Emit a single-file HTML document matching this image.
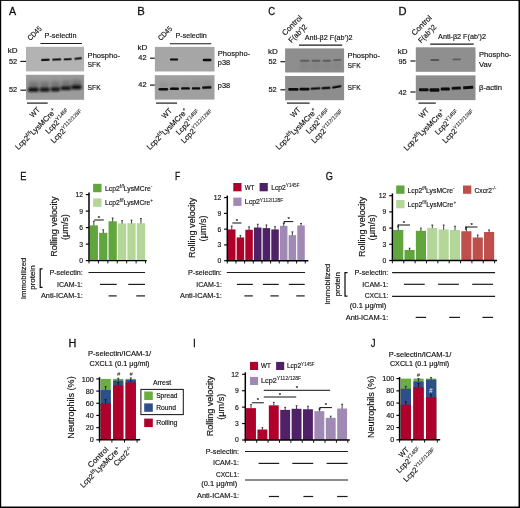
<!DOCTYPE html>
<html><head><meta charset="utf-8"><title>Figure</title>
<style>html,body{margin:0;padding:0;background:#fff;}body{width:520px;height:508px;overflow:hidden;}svg{display:block;font-family:"Liberation Sans", sans-serif;}text{font-family:"Liberation Sans", sans-serif;stroke:#111;stroke-width:0.16px;}</style>
</head><body>
<svg width="520" height="508" viewBox="0 0 520 508">
<defs>
<filter id="b1" x="-20%" y="-100%" width="140%" height="300%"><feGaussianBlur stdDeviation="0.7 0.55"/></filter>
<filter id="b2" x="-20%" y="-100%" width="140%" height="300%"><feGaussianBlur stdDeviation="1.0 0.9"/></filter>
<filter id="b3" x="-30%" y="-60%" width="160%" height="220%"><feGaussianBlur stdDeviation="1.6 2.2"/></filter>
<filter id="bt" x="-5%" y="-5%" width="110%" height="110%"><feGaussianBlur stdDeviation="0.35"/></filter>
<filter id="soft" x="0" y="0" width="100%" height="100%" filterUnits="objectBoundingBox"><feGaussianBlur stdDeviation="0.38"/></filter>
</defs>
<rect x="0" y="0" width="520" height="508" fill="#fff"/>
<g filter="url(#soft)">
<rect x="0.00" y="0.00" width="520.00" height="508.00" fill="#000" />
<rect x="1.20" y="0.90" width="517.30" height="505.60" fill="#fff" />
<text transform="translate(9.00 15.00) scale(0.943 1)" font-size="11.30" text-anchor="start" fill="#111" style="stroke-width:0.28px">A</text>
<text transform="translate(137.20 15.00) scale(1 1)" font-size="11.30" text-anchor="start" fill="#111" style="stroke-width:0.28px">B</text>
<text transform="translate(268.18 15.00) scale(0.837 1)" font-size="11.30" text-anchor="start" fill="#111" style="stroke-width:0.28px">C</text>
<text transform="translate(398.40 15.00) scale(0.986 1)" font-size="11.30" text-anchor="start" fill="#111" style="stroke-width:0.28px">D</text>
<text transform="translate(20.18 180.40) scale(0.817 1)" font-size="11.30" text-anchor="start" fill="#111" style="stroke-width:0.28px">E</text>
<text transform="translate(175.12 180.40) scale(0.75 1)" font-size="11.30" text-anchor="start" fill="#111" style="stroke-width:0.28px">F</text>
<text transform="translate(325.64 180.40) scale(0.812 1)" font-size="11.30" text-anchor="start" fill="#111" style="stroke-width:0.28px">G</text>
<text transform="translate(68.51 347.20) scale(0.964 1)" font-size="11.30" text-anchor="start" fill="#111" style="stroke-width:0.28px">H</text>
<text transform="translate(192.90 347.20) scale(0.9 1)" font-size="11.30" text-anchor="start" fill="#111" style="stroke-width:0.28px">I</text>
<text transform="translate(370.71 347.20) scale(0.85 1)" font-size="11.30" text-anchor="start" fill="#111" style="stroke-width:0.28px">J</text>
<clipPath id="cA1"><rect x="26.00" y="46.80" width="58.10" height="24.60"/></clipPath>
<rect x="26.00" y="46.80" width="58.10" height="24.60" fill="#b3b3b3" />
<g clip-path="url(#cA1)">
<rect x="41.00" y="58.85" width="8.70" height="2.10" rx="1.05" fill="#0a0a0a" opacity="0.95" filter="url(#b1)" transform="rotate(-3 45.35 59.90)"/>
<rect x="52.10" y="58.60" width="9.20" height="2.00" rx="1.00" fill="#0a0a0a" opacity="0.95" filter="url(#b1)" transform="rotate(-3 56.70 59.60)"/>
<rect x="63.60" y="58.35" width="8.20" height="1.90" rx="0.95" fill="#0a0a0a" opacity="0.95" filter="url(#b1)" transform="rotate(-3 67.70 59.30)"/>
<rect x="74.30" y="57.45" width="7.70" height="2.10" rx="1.05" fill="#0a0a0a" opacity="0.95" filter="url(#b1)" transform="rotate(-7 78.15 58.50)"/>
</g>
<clipPath id="cA2"><rect x="26.00" y="74.80" width="58.10" height="25.00"/></clipPath>
<rect x="26.00" y="74.80" width="58.10" height="25.00" fill="#9b9b9b" />
<g clip-path="url(#cA2)">
<rect x="28.50" y="82.00" width="10.00" height="7.00" rx="1.20" fill="#484848" opacity="0.52" filter="url(#b3)" transform="rotate(0 33.50 85.50)"/>
<rect x="40.00" y="82.00" width="9.50" height="7.00" rx="1.20" fill="#484848" opacity="0.52" filter="url(#b3)" transform="rotate(0 44.75 85.50)"/>
<rect x="51.20" y="81.50" width="8.80" height="7.00" rx="1.20" fill="#484848" opacity="0.52" filter="url(#b3)" transform="rotate(0 55.60 85.00)"/>
<rect x="61.50" y="80.80" width="9.50" height="7.00" rx="1.20" fill="#484848" opacity="0.52" filter="url(#b3)" transform="rotate(0 66.25 84.30)"/>
<rect x="72.00" y="79.90" width="9.50" height="7.00" rx="1.20" fill="#484848" opacity="0.56" filter="url(#b3)" transform="rotate(0 76.75 83.40)"/>
<rect x="28.10" y="87.70" width="10.50" height="4.00" rx="1.20" fill="#0a0a0a" opacity="1.00" filter="url(#b2)" transform="rotate(0 33.35 89.70)"/>
<rect x="39.90" y="87.80" width="9.60" height="3.80" rx="1.20" fill="#0a0a0a" opacity="1.00" filter="url(#b2)" transform="rotate(0 44.70 89.70)"/>
<rect x="50.80" y="87.40" width="9.10" height="3.80" rx="1.20" fill="#0a0a0a" opacity="1.00" filter="url(#b2)" transform="rotate(0 55.35 89.30)"/>
<rect x="60.70" y="86.45" width="10.20" height="3.50" rx="1.20" fill="#0a0a0a" opacity="1.00" filter="url(#b2)" transform="rotate(0 65.80 88.20)"/>
<rect x="71.30" y="85.20" width="10.20" height="4.00" rx="1.20" fill="#0a0a0a" opacity="1.00" filter="url(#b2)" transform="rotate(0 76.40 87.20)"/>
</g>
<text transform="translate(30.50 41.00) rotate(-45)" font-size="7.60" text-anchor="start" fill="#111" textLength="16.50" lengthAdjust="spacingAndGlyphs" >CD45</text>
<text transform="translate(44.60 38.40)" font-size="7.60" text-anchor="start" fill="#111" textLength="31.90" lengthAdjust="spacingAndGlyphs" >P-selectin</text>
<line x1="40.40" y1="43.50" x2="81.90" y2="43.50" stroke="#1a1a1a" stroke-width="1.15" stroke-linecap="butt"/>
<text transform="translate(7.80 52.60)" font-size="7.60" text-anchor="start" fill="#111" textLength="9.80" lengthAdjust="spacingAndGlyphs" >kD</text>
<text transform="translate(9.00 63.80)" font-size="7.60" text-anchor="start" fill="#111" textLength="8.20" lengthAdjust="spacingAndGlyphs" >52</text>
<line x1="20.40" y1="61.40" x2="26.00" y2="61.40" stroke="#1a1a1a" stroke-width="1.20" stroke-linecap="butt"/>
<text transform="translate(9.00 92.30)" font-size="7.60" text-anchor="start" fill="#111" textLength="8.20" lengthAdjust="spacingAndGlyphs" >52</text>
<line x1="20.40" y1="90.20" x2="26.00" y2="90.20" stroke="#1a1a1a" stroke-width="1.20" stroke-linecap="butt"/>
<text transform="translate(87.60 57.50)" font-size="7.80" text-anchor="start" fill="#111" textLength="32.40" lengthAdjust="spacingAndGlyphs" >Phospho-</text>
<text transform="translate(87.60 67.20)" font-size="7.80" text-anchor="start" fill="#111" textLength="13.00" lengthAdjust="spacingAndGlyphs" >SFK</text>
<text transform="translate(87.60 89.50)" font-size="7.80" text-anchor="start" fill="#111" textLength="13.00" lengthAdjust="spacingAndGlyphs" >SFK</text>
<line x1="27.00" y1="103.10" x2="47.70" y2="103.10" stroke="#1a1a1a" stroke-width="1.20" stroke-linecap="butt"/>
<text transform="translate(40.50 110.30) rotate(-45)" font-size="7.60" text-anchor="end" fill="#111" textLength="10.80" lengthAdjust="spacingAndGlyphs" >WT</text>
<text transform="translate(56.80 111.80) rotate(-45)" font-size="7.60" text-anchor="end" fill="#111" textLength="54.50" lengthAdjust="spacingAndGlyphs" >Lcp2<tspan dy="-3.04" font-size="5.32" style="stroke-width:0.08px">f/f</tspan><tspan dy="3.04">LysMCre</tspan><tspan dy="-3.04" font-size="5.32" style="stroke-width:0.08px">+</tspan></text>
<text transform="translate(70.30 112.40) rotate(-45)" font-size="7.60" text-anchor="end" fill="#111" textLength="31.00" lengthAdjust="spacingAndGlyphs" >Lcp2<tspan dy="-3.04" font-size="5.32" style="stroke-width:0.08px">Y145F</tspan></text>
<text transform="translate(84.20 113.30) rotate(-45)" font-size="7.60" text-anchor="end" fill="#111" textLength="43.00" lengthAdjust="spacingAndGlyphs" >Lcp2<tspan dy="-3.04" font-size="5.32" style="stroke-width:0.08px">Y112/128F</tspan></text>
<clipPath id="cB1"><rect x="154.90" y="46.90" width="59.60" height="24.60"/></clipPath>
<rect x="154.90" y="46.90" width="59.60" height="24.60" fill="#a6a6a6" />
<g clip-path="url(#cB1)">
<rect x="169.90" y="58.40" width="8.30" height="2.20" rx="1.10" fill="#0a0a0a" opacity="1.00" filter="url(#b1)" transform="rotate(0 174.05 59.50)"/>
<rect x="202.70" y="58.80" width="8.80" height="2.40" rx="1.20" fill="#0a0a0a" opacity="1.00" filter="url(#b1)" transform="rotate(0 207.10 60.00)"/>
</g>
<clipPath id="cB2"><rect x="154.80" y="75.20" width="59.70" height="24.40"/></clipPath>
<rect x="154.80" y="75.20" width="59.70" height="24.40" fill="#a0a0a0" />
<g clip-path="url(#cB2)">
<rect x="159.00" y="82.50" width="9.00" height="6.00" rx="1.20" fill="#666" opacity="0.22" filter="url(#b3)" transform="rotate(0 163.50 85.50)"/>
<rect x="170.30" y="82.00" width="8.50" height="6.00" rx="1.20" fill="#666" opacity="0.22" filter="url(#b3)" transform="rotate(0 174.55 85.00)"/>
<rect x="181.30" y="81.80" width="8.50" height="6.00" rx="1.20" fill="#666" opacity="0.22" filter="url(#b3)" transform="rotate(0 185.55 84.80)"/>
<rect x="192.00" y="81.80" width="8.20" height="6.00" rx="1.20" fill="#666" opacity="0.22" filter="url(#b3)" transform="rotate(0 196.10 84.80)"/>
<rect x="202.30" y="81.00" width="9.00" height="6.00" rx="1.20" fill="#666" opacity="0.25" filter="url(#b3)" transform="rotate(0 206.80 84.00)"/>
<rect x="158.50" y="88.05" width="9.70" height="2.50" rx="1.20" fill="#0a0a0a" opacity="1.00" filter="url(#b1)" transform="rotate(0 163.35 89.30)"/>
<rect x="169.90" y="87.55" width="9.10" height="2.50" rx="1.20" fill="#0a0a0a" opacity="1.00" filter="url(#b1)" transform="rotate(0 174.45 88.80)"/>
<rect x="181.00" y="87.20" width="8.90" height="2.40" rx="1.20" fill="#0a0a0a" opacity="1.00" filter="url(#b1)" transform="rotate(0 185.45 88.40)"/>
<rect x="191.80" y="87.25" width="8.50" height="2.30" rx="1.15" fill="#0a0a0a" opacity="1.00" filter="url(#b1)" transform="rotate(0 196.05 88.40)"/>
<rect x="202.00" y="86.20" width="9.50" height="2.60" rx="1.20" fill="#0a0a0a" opacity="1.00" filter="url(#b1)" transform="rotate(-3 206.75 87.50)"/>
</g>
<text transform="translate(161.00 41.00) rotate(-45)" font-size="7.60" text-anchor="start" fill="#111" textLength="16.50" lengthAdjust="spacingAndGlyphs" >CD45</text>
<text transform="translate(175.50 38.00)" font-size="7.60" text-anchor="start" fill="#111" textLength="31.30" lengthAdjust="spacingAndGlyphs" >P-selectin</text>
<line x1="169.80" y1="43.70" x2="211.30" y2="43.70" stroke="#1a1a1a" stroke-width="1.15" stroke-linecap="butt"/>
<text transform="translate(137.40 50.00)" font-size="7.60" text-anchor="start" fill="#111" textLength="9.80" lengthAdjust="spacingAndGlyphs" >kD</text>
<text transform="translate(138.30 60.30)" font-size="7.60" text-anchor="start" fill="#111" textLength="8.20" lengthAdjust="spacingAndGlyphs" >42</text>
<line x1="150.00" y1="58.20" x2="154.80" y2="58.20" stroke="#1a1a1a" stroke-width="1.20" stroke-linecap="butt"/>
<text transform="translate(138.30 87.20)" font-size="7.60" text-anchor="start" fill="#111" textLength="8.20" lengthAdjust="spacingAndGlyphs" >42</text>
<line x1="150.00" y1="85.10" x2="154.80" y2="85.10" stroke="#1a1a1a" stroke-width="1.20" stroke-linecap="butt"/>
<text transform="translate(217.80 55.90)" font-size="7.80" text-anchor="start" fill="#111" textLength="32.40" lengthAdjust="spacingAndGlyphs" >Phospho-</text>
<text transform="translate(217.80 65.10)" font-size="7.80" text-anchor="start" fill="#111" textLength="12.30" lengthAdjust="spacingAndGlyphs" >p38</text>
<text transform="translate(217.80 87.60)" font-size="7.80" text-anchor="start" fill="#111" textLength="12.30" lengthAdjust="spacingAndGlyphs" >p38</text>
<line x1="156.00" y1="103.10" x2="177.00" y2="103.10" stroke="#1a1a1a" stroke-width="1.20" stroke-linecap="butt"/>
<text transform="translate(172.40 111.30) rotate(-45)" font-size="7.60" text-anchor="end" fill="#111" textLength="10.80" lengthAdjust="spacingAndGlyphs" >WT</text>
<text transform="translate(188.30 111.80) rotate(-45)" font-size="7.60" text-anchor="end" fill="#111" textLength="54.50" lengthAdjust="spacingAndGlyphs" >Lcp2<tspan dy="-3.04" font-size="5.32" style="stroke-width:0.08px">f/f</tspan><tspan dy="3.04">LysMCre</tspan><tspan dy="-3.04" font-size="5.32" style="stroke-width:0.08px">+</tspan></text>
<text transform="translate(200.90 113.40) rotate(-45)" font-size="7.60" text-anchor="end" fill="#111" textLength="31.00" lengthAdjust="spacingAndGlyphs" >Lcp2<tspan dy="-3.04" font-size="5.32" style="stroke-width:0.08px">Y145F</tspan></text>
<text transform="translate(214.40 113.30) rotate(-45)" font-size="7.60" text-anchor="end" fill="#111" textLength="43.00" lengthAdjust="spacingAndGlyphs" >Lcp2<tspan dy="-3.04" font-size="5.32" style="stroke-width:0.08px">Y112/128F</tspan></text>
<clipPath id="cC1"><rect x="285.10" y="48.40" width="59.00" height="24.10"/></clipPath>
<rect x="285.10" y="48.40" width="59.00" height="24.10" fill="#8e8e8e" />
<g clip-path="url(#cC1)">
<rect x="300.00" y="59.85" width="9.50" height="1.90" rx="0.95" fill="#333" opacity="0.50" filter="url(#b1)" transform="rotate(0 304.75 60.80)"/>
<rect x="311.50" y="59.85" width="9.00" height="1.90" rx="0.95" fill="#333" opacity="0.50" filter="url(#b1)" transform="rotate(0 316.00 60.80)"/>
<rect x="322.50" y="59.75" width="8.50" height="1.90" rx="0.95" fill="#333" opacity="0.50" filter="url(#b1)" transform="rotate(0 326.75 60.70)"/>
<rect x="333.00" y="59.15" width="8.50" height="1.90" rx="0.95" fill="#333" opacity="0.50" filter="url(#b1)" transform="rotate(-4 337.25 60.10)"/>
<rect x="300.00" y="62.00" width="9.50" height="8.00" rx="1.20" fill="#666" opacity="0.20" filter="url(#b3)" transform="rotate(0 304.75 66.00)"/>
<rect x="311.50" y="62.00" width="9.00" height="8.00" rx="1.20" fill="#666" opacity="0.20" filter="url(#b3)" transform="rotate(0 316.00 66.00)"/>
<rect x="322.50" y="62.00" width="8.50" height="8.00" rx="1.20" fill="#666" opacity="0.20" filter="url(#b3)" transform="rotate(0 326.75 66.00)"/>
<rect x="333.00" y="62.00" width="8.50" height="8.00" rx="1.20" fill="#666" opacity="0.20" filter="url(#b3)" transform="rotate(0 337.25 66.00)"/>
</g>
<clipPath id="cC2"><rect x="285.10" y="76.00" width="59.00" height="24.20"/></clipPath>
<rect x="285.10" y="76.00" width="59.00" height="24.20" fill="#8d8d8d" />
<g clip-path="url(#cC2)">
<rect x="288.20" y="88.10" width="10.30" height="2.60" rx="1.20" fill="#0a0a0a" opacity="1.00" filter="url(#b1)" transform="rotate(0 293.35 89.40)"/>
<rect x="299.50" y="87.80" width="10.00" height="2.60" rx="1.20" fill="#0a0a0a" opacity="1.00" filter="url(#b1)" transform="rotate(0 304.50 89.10)"/>
<rect x="310.50" y="87.45" width="10.00" height="2.10" rx="1.05" fill="#0a0a0a" opacity="1.00" filter="url(#b1)" transform="rotate(-4 315.50 88.50)"/>
<rect x="321.50" y="86.80" width="9.00" height="2.40" rx="1.20" fill="#0a0a0a" opacity="0.92" filter="url(#b1)" transform="rotate(-3 326.00 88.00)"/>
<rect x="332.00" y="85.70" width="9.50" height="2.20" rx="1.10" fill="#0a0a0a" opacity="1.00" filter="url(#b1)" transform="rotate(-10 336.75 86.80)"/>
</g>
<text transform="translate(285.00 35.90) rotate(-45)" font-size="7.60" text-anchor="start" fill="#111" textLength="25.00" lengthAdjust="spacingAndGlyphs" >Control</text>
<text transform="translate(291.60 43.30) rotate(-45)" font-size="7.60" text-anchor="start" fill="#111" textLength="22.50" lengthAdjust="spacingAndGlyphs" >F(ab’)2</text>
<text transform="translate(304.80 39.90)" font-size="7.60" text-anchor="start" fill="#111" textLength="47.80" lengthAdjust="spacingAndGlyphs" >Anti-β2 F(ab’)2</text>
<line x1="299.00" y1="45.10" x2="342.20" y2="45.10" stroke="#1a1a1a" stroke-width="1.15" stroke-linecap="butt"/>
<text transform="translate(267.90 53.80)" font-size="7.60" text-anchor="start" fill="#111" textLength="9.80" lengthAdjust="spacingAndGlyphs" >kD</text>
<text transform="translate(268.50 63.70)" font-size="7.60" text-anchor="start" fill="#111" textLength="8.20" lengthAdjust="spacingAndGlyphs" >52</text>
<line x1="280.40" y1="61.70" x2="285.10" y2="61.70" stroke="#1a1a1a" stroke-width="1.20" stroke-linecap="butt"/>
<text transform="translate(268.50 91.50)" font-size="7.60" text-anchor="start" fill="#111" textLength="8.20" lengthAdjust="spacingAndGlyphs" >52</text>
<line x1="280.40" y1="89.80" x2="285.10" y2="89.80" stroke="#1a1a1a" stroke-width="1.20" stroke-linecap="butt"/>
<text transform="translate(347.60 57.60)" font-size="7.80" text-anchor="start" fill="#111" textLength="32.40" lengthAdjust="spacingAndGlyphs" >Phospho-</text>
<text transform="translate(347.60 67.50)" font-size="7.80" text-anchor="start" fill="#111" textLength="13.00" lengthAdjust="spacingAndGlyphs" >SFK</text>
<text transform="translate(347.60 90.00)" font-size="7.80" text-anchor="start" fill="#111" textLength="13.00" lengthAdjust="spacingAndGlyphs" >SFK</text>
<line x1="287.00" y1="103.10" x2="309.60" y2="103.10" stroke="#1a1a1a" stroke-width="1.20" stroke-linecap="butt"/>
<text transform="translate(301.10 110.30) rotate(-45)" font-size="7.60" text-anchor="end" fill="#111" textLength="10.80" lengthAdjust="spacingAndGlyphs" >WT</text>
<text transform="translate(317.40 111.80) rotate(-45)" font-size="7.60" text-anchor="end" fill="#111" textLength="54.50" lengthAdjust="spacingAndGlyphs" >Lcp2<tspan dy="-3.04" font-size="5.32" style="stroke-width:0.08px">f/f</tspan><tspan dy="3.04">LysMCre</tspan><tspan dy="-3.04" font-size="5.32" style="stroke-width:0.08px">+</tspan></text>
<text transform="translate(330.90 112.40) rotate(-45)" font-size="7.60" text-anchor="end" fill="#111" textLength="31.00" lengthAdjust="spacingAndGlyphs" >Lcp2<tspan dy="-3.04" font-size="5.32" style="stroke-width:0.08px">Y145F</tspan></text>
<text transform="translate(344.80 113.30) rotate(-45)" font-size="7.60" text-anchor="end" fill="#111" textLength="43.00" lengthAdjust="spacingAndGlyphs" >Lcp2<tspan dy="-3.04" font-size="5.32" style="stroke-width:0.08px">Y112/128F</tspan></text>
<clipPath id="cD1"><rect x="415.80" y="47.30" width="59.70" height="24.50"/></clipPath>
<rect x="415.80" y="47.30" width="59.70" height="24.50" fill="#8f8f8f" />
<g clip-path="url(#cD1)">
<rect x="430.30" y="58.90" width="9.10" height="2.20" rx="1.10" fill="#222" opacity="0.52" filter="url(#b1)" transform="rotate(0 434.85 60.00)"/>
<rect x="452.50" y="58.45" width="8.50" height="1.90" rx="0.95" fill="#222" opacity="0.45" filter="url(#b1)" transform="rotate(0 456.75 59.40)"/>
</g>
<clipPath id="cD2"><rect x="415.80" y="75.40" width="59.70" height="24.70"/></clipPath>
<rect x="415.80" y="75.40" width="59.70" height="24.70" fill="#8d8d8d" />
<g clip-path="url(#cD2)">
<rect x="418.90" y="88.30" width="9.70" height="3.00" rx="1.20" fill="#0a0a0a" opacity="1.00" filter="url(#b1)" transform="rotate(0 423.75 89.80)"/>
<rect x="429.60" y="88.30" width="9.80" height="3.40" rx="1.20" fill="#0a0a0a" opacity="1.00" filter="url(#b1)" transform="rotate(0 434.50 90.00)"/>
<rect x="440.70" y="87.50" width="9.20" height="3.00" rx="1.20" fill="#0a0a0a" opacity="1.00" filter="url(#b1)" transform="rotate(0 445.30 89.00)"/>
<rect x="451.60" y="86.80" width="9.40" height="2.80" rx="1.20" fill="#0a0a0a" opacity="1.00" filter="url(#b1)" transform="rotate(-3 456.30 88.20)"/>
<rect x="463.00" y="86.00" width="10.40" height="3.00" rx="1.20" fill="#0a0a0a" opacity="1.00" filter="url(#b1)" transform="rotate(-4 468.20 87.50)"/>
</g>
<text transform="translate(414.60 35.90) rotate(-45)" font-size="7.60" text-anchor="start" fill="#111" textLength="25.00" lengthAdjust="spacingAndGlyphs" >Control</text>
<text transform="translate(421.20 43.40) rotate(-45)" font-size="7.60" text-anchor="start" fill="#111" textLength="22.00" lengthAdjust="spacingAndGlyphs" >F(ab’)2</text>
<text transform="translate(438.10 39.00)" font-size="7.60" text-anchor="start" fill="#111" textLength="47.90" lengthAdjust="spacingAndGlyphs" >Anti-β2 F(ab’)2</text>
<line x1="430.20" y1="44.10" x2="473.70" y2="44.10" stroke="#1a1a1a" stroke-width="1.15" stroke-linecap="butt"/>
<text transform="translate(397.70 53.70)" font-size="7.60" text-anchor="start" fill="#111" textLength="9.80" lengthAdjust="spacingAndGlyphs" >kD</text>
<text transform="translate(398.50 63.80)" font-size="7.60" text-anchor="start" fill="#111" textLength="8.20" lengthAdjust="spacingAndGlyphs" >95</text>
<line x1="410.40" y1="61.00" x2="415.50" y2="61.00" stroke="#1a1a1a" stroke-width="1.20" stroke-linecap="butt"/>
<text transform="translate(398.50 94.50)" font-size="7.60" text-anchor="start" fill="#111" textLength="8.20" lengthAdjust="spacingAndGlyphs" >42</text>
<line x1="410.40" y1="92.00" x2="415.50" y2="92.00" stroke="#1a1a1a" stroke-width="1.20" stroke-linecap="butt"/>
<text transform="translate(479.00 57.30)" font-size="7.80" text-anchor="start" fill="#111" textLength="32.40" lengthAdjust="spacingAndGlyphs" >Phospho-</text>
<text transform="translate(479.00 67.00)" font-size="7.80" text-anchor="start" fill="#111" textLength="12.60" lengthAdjust="spacingAndGlyphs" >Vav</text>
<text transform="translate(479.00 89.50)" font-size="7.80" text-anchor="start" fill="#111" textLength="23.00" lengthAdjust="spacingAndGlyphs" >β-actin</text>
<line x1="418.50" y1="103.10" x2="435.80" y2="103.10" stroke="#1a1a1a" stroke-width="1.20" stroke-linecap="butt"/>
<text transform="translate(429.60 111.00) rotate(-45)" font-size="7.60" text-anchor="end" fill="#111" textLength="10.80" lengthAdjust="spacingAndGlyphs" >WT</text>
<text transform="translate(445.20 112.80) rotate(-45)" font-size="7.60" text-anchor="end" fill="#111" textLength="54.50" lengthAdjust="spacingAndGlyphs" >Lcp2<tspan dy="-3.04" font-size="5.32" style="stroke-width:0.08px">f/f</tspan><tspan dy="3.04">LysMCre</tspan><tspan dy="-3.04" font-size="5.32" style="stroke-width:0.08px">+</tspan></text>
<text transform="translate(459.90 113.40) rotate(-45)" font-size="7.60" text-anchor="end" fill="#111" textLength="31.00" lengthAdjust="spacingAndGlyphs" >Lcp2<tspan dy="-3.04" font-size="5.32" style="stroke-width:0.08px">Y145F</tspan></text>
<text transform="translate(475.80 113.30) rotate(-45)" font-size="7.60" text-anchor="end" fill="#111" textLength="43.00" lengthAdjust="spacingAndGlyphs" >Lcp2<tspan dy="-3.04" font-size="5.32" style="stroke-width:0.08px">Y112/128F</tspan></text>
<rect x="89.70" y="225.40" width="8.25" height="35.20" fill="#60a63c" />
<line x1="93.83" y1="225.60" x2="93.83" y2="221.28" stroke="#111" stroke-width="0.80" stroke-linecap="butt"/>
<line x1="92.92" y1="221.28" x2="94.73" y2="221.28" stroke="#111" stroke-width="0.80" stroke-linecap="butt"/>
<rect x="99.12" y="232.83" width="8.25" height="27.78" fill="#60a63c" />
<line x1="103.25" y1="233.03" x2="103.25" y2="229.80" stroke="#111" stroke-width="0.80" stroke-linecap="butt"/>
<line x1="102.34" y1="229.80" x2="104.15" y2="229.80" stroke="#111" stroke-width="0.80" stroke-linecap="butt"/>
<rect x="108.54" y="221.28" width="8.25" height="39.33" fill="#60a63c" />
<line x1="112.67" y1="221.47" x2="112.67" y2="217.97" stroke="#111" stroke-width="0.80" stroke-linecap="butt"/>
<line x1="111.77" y1="217.97" x2="113.57" y2="217.97" stroke="#111" stroke-width="0.80" stroke-linecap="butt"/>
<rect x="117.96" y="223.47" width="8.25" height="37.13" fill="#b5d699" />
<line x1="122.09" y1="223.67" x2="122.09" y2="220.72" stroke="#111" stroke-width="0.80" stroke-linecap="butt"/>
<line x1="121.19" y1="220.72" x2="122.99" y2="220.72" stroke="#111" stroke-width="0.80" stroke-linecap="butt"/>
<rect x="127.38" y="223.20" width="8.25" height="37.40" fill="#b5d699" />
<line x1="131.50" y1="223.40" x2="131.50" y2="220.18" stroke="#111" stroke-width="0.80" stroke-linecap="butt"/>
<line x1="130.60" y1="220.18" x2="132.41" y2="220.18" stroke="#111" stroke-width="0.80" stroke-linecap="butt"/>
<rect x="136.80" y="223.20" width="8.25" height="37.40" fill="#b5d699" />
<line x1="140.93" y1="223.40" x2="140.93" y2="218.53" stroke="#111" stroke-width="0.80" stroke-linecap="butt"/>
<line x1="140.03" y1="218.53" x2="141.83" y2="218.53" stroke="#111" stroke-width="0.80" stroke-linecap="butt"/>
<line x1="89.00" y1="192.60" x2="89.00" y2="261.30" stroke="#000" stroke-width="1.50" stroke-linecap="butt"/>
<line x1="88.30" y1="260.60" x2="146.80" y2="260.60" stroke="#000" stroke-width="1.40" stroke-linecap="butt"/>
<line x1="85.80" y1="260.60" x2="89.00" y2="260.60" stroke="#000" stroke-width="1.15" stroke-linecap="butt"/>
<text transform="translate(83.00 263.00) scale(0.92 1)" font-size="7.40" text-anchor="end" fill="#111" >0</text>
<line x1="85.80" y1="244.10" x2="89.00" y2="244.10" stroke="#000" stroke-width="1.15" stroke-linecap="butt"/>
<text transform="translate(83.00 246.50) scale(0.92 1)" font-size="7.40" text-anchor="end" fill="#111" >3</text>
<line x1="85.80" y1="227.60" x2="89.00" y2="227.60" stroke="#000" stroke-width="1.15" stroke-linecap="butt"/>
<text transform="translate(83.00 230.00) scale(0.92 1)" font-size="7.40" text-anchor="end" fill="#111" >6</text>
<line x1="85.80" y1="211.10" x2="89.00" y2="211.10" stroke="#000" stroke-width="1.15" stroke-linecap="butt"/>
<text transform="translate(83.00 213.50) scale(0.92 1)" font-size="7.40" text-anchor="end" fill="#111" >9</text>
<line x1="85.80" y1="194.60" x2="89.00" y2="194.60" stroke="#000" stroke-width="1.15" stroke-linecap="butt"/>
<text transform="translate(83.00 197.00) scale(0.92 1)" font-size="7.40" text-anchor="end" fill="#111" >12</text>
<line x1="89.00" y1="260.60" x2="89.00" y2="263.40" stroke="#111" stroke-width="1.00" stroke-linecap="butt"/>
<line x1="98.42" y1="260.60" x2="98.42" y2="263.40" stroke="#111" stroke-width="1.00" stroke-linecap="butt"/>
<line x1="107.84" y1="260.60" x2="107.84" y2="263.40" stroke="#111" stroke-width="1.00" stroke-linecap="butt"/>
<line x1="117.26" y1="260.60" x2="117.26" y2="263.40" stroke="#111" stroke-width="1.00" stroke-linecap="butt"/>
<line x1="126.68" y1="260.60" x2="126.68" y2="263.40" stroke="#111" stroke-width="1.00" stroke-linecap="butt"/>
<line x1="136.10" y1="260.60" x2="136.10" y2="263.40" stroke="#111" stroke-width="1.00" stroke-linecap="butt"/>
<line x1="145.52" y1="260.60" x2="145.52" y2="263.40" stroke="#111" stroke-width="1.00" stroke-linecap="butt"/>
<text transform="translate(56.80 226.60) rotate(-90)" font-size="9.00" text-anchor="middle" fill="#111" textLength="60.30" lengthAdjust="spacingAndGlyphs" >Rolling velocity</text>
<text transform="translate(68.30 227.10) rotate(-90)" font-size="9.00" text-anchor="middle" fill="#111" textLength="26.00" lengthAdjust="spacingAndGlyphs" >(μm/s)</text>
<line x1="94.20" y1="220.00" x2="103.80" y2="220.00" stroke="#111" stroke-width="1.00" stroke-linecap="butt"/>
<text transform="translate(99.00 219.60)" font-size="6.00" text-anchor="middle" fill="#111" >*</text>
<rect x="93.10" y="183.80" width="8.40" height="8.40" fill="#60a63c" />
<rect x="93.10" y="198.40" width="8.40" height="8.40" fill="#b5d699" />
<text transform="translate(105.10 190.80)" font-size="7.20" text-anchor="start" fill="#111" textLength="47.20" lengthAdjust="spacingAndGlyphs" >Lcp2<tspan dy="-2.88" font-size="5.04" style="stroke-width:0.08px">f/f</tspan><tspan dy="2.88">LysMCre</tspan><tspan dy="-2.88" font-size="5.04" style="stroke-width:0.08px">-</tspan></text>
<text transform="translate(105.10 205.20)" font-size="7.20" text-anchor="start" fill="#111" textLength="48.00" lengthAdjust="spacingAndGlyphs" >Lcp2<tspan dy="-2.88" font-size="5.04" style="stroke-width:0.08px">f/f</tspan><tspan dy="2.88">LysMCre</tspan><tspan dy="-2.88" font-size="5.04" style="stroke-width:0.08px">+</tspan></text>
<text transform="translate(82.80 274.60)" font-size="7.60" text-anchor="end" fill="#111" textLength="33.40" lengthAdjust="spacingAndGlyphs" >P-selectin:</text>
<text transform="translate(82.80 286.60)" font-size="7.60" text-anchor="end" fill="#111" textLength="25.70" lengthAdjust="spacingAndGlyphs" >ICAM-1:</text>
<text transform="translate(82.80 298.10)" font-size="7.60" text-anchor="end" fill="#111" textLength="41.80" lengthAdjust="spacingAndGlyphs" >Anti-ICAM-1:</text>
<line x1="88.50" y1="272.50" x2="145.00" y2="272.50" stroke="#1a1a1a" stroke-width="1.20" stroke-linecap="butt"/>
<line x1="100.00" y1="284.40" x2="116.70" y2="284.40" stroke="#1a1a1a" stroke-width="1.20" stroke-linecap="butt"/>
<line x1="128.30" y1="284.40" x2="145.00" y2="284.40" stroke="#1a1a1a" stroke-width="1.20" stroke-linecap="butt"/>
<line x1="108.60" y1="295.90" x2="116.70" y2="295.90" stroke="#1a1a1a" stroke-width="1.20" stroke-linecap="butt"/>
<line x1="136.30" y1="295.90" x2="145.00" y2="295.90" stroke="#1a1a1a" stroke-width="1.20" stroke-linecap="butt"/>
<path d="M42.6 268.8 H40.2 V287.4 H42.6" fill="none" stroke="#111" stroke-width="1.25"/>
<text transform="translate(25.60 278.40) rotate(-90)" font-size="7.60" text-anchor="middle" fill="#111" textLength="41.50" lengthAdjust="spacingAndGlyphs" >Immobilized</text>
<text transform="translate(35.20 277.60) rotate(-90)" font-size="7.60" text-anchor="middle" fill="#111" textLength="24.30" lengthAdjust="spacingAndGlyphs" >protein</text>
<rect x="228.00" y="229.41" width="7.50" height="31.29" fill="#ae002b" />
<line x1="231.75" y1="229.61" x2="231.75" y2="226.00" stroke="#111" stroke-width="0.80" stroke-linecap="butt"/>
<line x1="230.85" y1="226.00" x2="232.65" y2="226.00" stroke="#111" stroke-width="0.80" stroke-linecap="butt"/>
<rect x="236.66" y="237.41" width="7.50" height="23.29" fill="#ae002b" />
<line x1="240.41" y1="237.61" x2="240.41" y2="235.57" stroke="#111" stroke-width="0.80" stroke-linecap="butt"/>
<line x1="239.51" y1="235.57" x2="241.31" y2="235.57" stroke="#111" stroke-width="0.80" stroke-linecap="butt"/>
<rect x="245.32" y="229.78" width="7.50" height="30.92" fill="#ae002b" />
<line x1="249.07" y1="229.98" x2="249.07" y2="226.89" stroke="#111" stroke-width="0.80" stroke-linecap="butt"/>
<line x1="248.17" y1="226.89" x2="249.97" y2="226.89" stroke="#111" stroke-width="0.80" stroke-linecap="butt"/>
<rect x="253.98" y="227.52" width="7.50" height="33.18" fill="#4f2267" />
<line x1="257.73" y1="227.72" x2="257.73" y2="224.26" stroke="#111" stroke-width="0.80" stroke-linecap="butt"/>
<line x1="256.83" y1="224.26" x2="258.63" y2="224.26" stroke="#111" stroke-width="0.80" stroke-linecap="butt"/>
<rect x="262.64" y="228.10" width="7.50" height="32.60" fill="#4f2267" />
<line x1="266.39" y1="228.30" x2="266.39" y2="224.94" stroke="#111" stroke-width="0.80" stroke-linecap="butt"/>
<line x1="265.49" y1="224.94" x2="267.29" y2="224.94" stroke="#111" stroke-width="0.80" stroke-linecap="butt"/>
<rect x="271.30" y="229.41" width="7.50" height="31.29" fill="#4f2267" />
<line x1="275.05" y1="229.61" x2="275.05" y2="226.68" stroke="#111" stroke-width="0.80" stroke-linecap="butt"/>
<line x1="274.15" y1="226.68" x2="275.95" y2="226.68" stroke="#111" stroke-width="0.80" stroke-linecap="butt"/>
<rect x="279.96" y="225.89" width="7.50" height="34.81" fill="#a08ab4" />
<line x1="283.71" y1="226.09" x2="283.71" y2="223.16" stroke="#111" stroke-width="0.80" stroke-linecap="butt"/>
<line x1="282.81" y1="223.16" x2="284.61" y2="223.16" stroke="#111" stroke-width="0.80" stroke-linecap="butt"/>
<rect x="288.62" y="235.14" width="7.50" height="25.56" fill="#a08ab4" />
<line x1="292.37" y1="235.34" x2="292.37" y2="231.88" stroke="#111" stroke-width="0.80" stroke-linecap="butt"/>
<line x1="291.47" y1="231.88" x2="293.27" y2="231.88" stroke="#111" stroke-width="0.80" stroke-linecap="butt"/>
<rect x="297.28" y="225.47" width="7.50" height="35.23" fill="#a08ab4" />
<line x1="301.03" y1="225.67" x2="301.03" y2="223.47" stroke="#111" stroke-width="0.80" stroke-linecap="butt"/>
<line x1="300.13" y1="223.47" x2="301.93" y2="223.47" stroke="#111" stroke-width="0.80" stroke-linecap="butt"/>
<line x1="227.30" y1="195.60" x2="227.30" y2="261.40" stroke="#000" stroke-width="1.50" stroke-linecap="butt"/>
<line x1="226.60" y1="260.70" x2="308.40" y2="260.70" stroke="#000" stroke-width="1.40" stroke-linecap="butt"/>
<line x1="224.10" y1="260.70" x2="227.30" y2="260.70" stroke="#000" stroke-width="1.15" stroke-linecap="butt"/>
<text transform="translate(221.40 263.10) scale(0.92 1)" font-size="7.40" text-anchor="end" fill="#111" >0</text>
<line x1="224.10" y1="244.92" x2="227.30" y2="244.92" stroke="#000" stroke-width="1.15" stroke-linecap="butt"/>
<text transform="translate(221.40 247.32) scale(0.92 1)" font-size="7.40" text-anchor="end" fill="#111" >3</text>
<line x1="224.10" y1="229.15" x2="227.30" y2="229.15" stroke="#000" stroke-width="1.15" stroke-linecap="butt"/>
<text transform="translate(221.40 231.55) scale(0.92 1)" font-size="7.40" text-anchor="end" fill="#111" >6</text>
<line x1="224.10" y1="213.38" x2="227.30" y2="213.38" stroke="#000" stroke-width="1.15" stroke-linecap="butt"/>
<text transform="translate(221.40 215.78) scale(0.92 1)" font-size="7.40" text-anchor="end" fill="#111" >9</text>
<line x1="224.10" y1="197.60" x2="227.30" y2="197.60" stroke="#000" stroke-width="1.15" stroke-linecap="butt"/>
<text transform="translate(221.40 200.00) scale(0.92 1)" font-size="7.40" text-anchor="end" fill="#111" >12</text>
<line x1="227.30" y1="260.70" x2="227.30" y2="263.50" stroke="#111" stroke-width="1.00" stroke-linecap="butt"/>
<line x1="235.96" y1="260.70" x2="235.96" y2="263.50" stroke="#111" stroke-width="1.00" stroke-linecap="butt"/>
<line x1="244.62" y1="260.70" x2="244.62" y2="263.50" stroke="#111" stroke-width="1.00" stroke-linecap="butt"/>
<line x1="253.28" y1="260.70" x2="253.28" y2="263.50" stroke="#111" stroke-width="1.00" stroke-linecap="butt"/>
<line x1="261.94" y1="260.70" x2="261.94" y2="263.50" stroke="#111" stroke-width="1.00" stroke-linecap="butt"/>
<line x1="270.60" y1="260.70" x2="270.60" y2="263.50" stroke="#111" stroke-width="1.00" stroke-linecap="butt"/>
<line x1="279.26" y1="260.70" x2="279.26" y2="263.50" stroke="#111" stroke-width="1.00" stroke-linecap="butt"/>
<line x1="287.92" y1="260.70" x2="287.92" y2="263.50" stroke="#111" stroke-width="1.00" stroke-linecap="butt"/>
<line x1="296.58" y1="260.70" x2="296.58" y2="263.50" stroke="#111" stroke-width="1.00" stroke-linecap="butt"/>
<line x1="305.24" y1="260.70" x2="305.24" y2="263.50" stroke="#111" stroke-width="1.00" stroke-linecap="butt"/>
<text transform="translate(194.80 227.90) rotate(-90)" font-size="9.00" text-anchor="middle" fill="#111" textLength="60.30" lengthAdjust="spacingAndGlyphs" >Rolling velocity</text>
<text transform="translate(206.30 228.40) rotate(-90)" font-size="9.00" text-anchor="middle" fill="#111" textLength="26.00" lengthAdjust="spacingAndGlyphs" >(μm/s)</text>
<line x1="232.30" y1="223.00" x2="241.50" y2="223.00" stroke="#111" stroke-width="1.00" stroke-linecap="butt"/>
<text transform="translate(236.90 222.60)" font-size="6.00" text-anchor="middle" fill="#111" >*</text>
<line x1="284.20" y1="221.60" x2="293.30" y2="221.60" stroke="#111" stroke-width="1.00" stroke-linecap="butt"/>
<line x1="284.20" y1="221.10" x2="284.20" y2="223.60" stroke="#111" stroke-width="1.00" stroke-linecap="butt"/>
<text transform="translate(288.75 221.20)" font-size="6.00" text-anchor="middle" fill="#111" >*</text>
<rect x="233.30" y="183.00" width="8.20" height="8.30" fill="#ae002b" />
<rect x="259.60" y="183.00" width="8.20" height="8.30" fill="#4f2267" />
<rect x="233.30" y="197.60" width="8.20" height="8.30" fill="#a08ab4" />
<text transform="translate(244.80 190.00)" font-size="7.20" text-anchor="start" fill="#111" textLength="9.60" lengthAdjust="spacingAndGlyphs" >WT</text>
<text transform="translate(271.20 190.00)" font-size="7.20" text-anchor="start" fill="#111" textLength="28.40" lengthAdjust="spacingAndGlyphs" >Lcp2<tspan dy="-2.88" font-size="5.04" style="stroke-width:0.08px">Y145F</tspan></text>
<text transform="translate(244.80 204.40)" font-size="7.20" text-anchor="start" fill="#111" textLength="38.50" lengthAdjust="spacingAndGlyphs" >Lcp2<tspan dy="-2.88" font-size="5.04" style="stroke-width:0.08px">Y112/128F</tspan></text>
<text transform="translate(221.90 274.60)" font-size="7.60" text-anchor="end" fill="#111" textLength="34.00" lengthAdjust="spacingAndGlyphs" >P-selectin:</text>
<text transform="translate(221.90 286.60)" font-size="7.60" text-anchor="end" fill="#111" textLength="25.70" lengthAdjust="spacingAndGlyphs" >ICAM-1:</text>
<text transform="translate(221.90 298.10)" font-size="7.60" text-anchor="end" fill="#111" textLength="41.80" lengthAdjust="spacingAndGlyphs" >Anti-ICAM-1:</text>
<line x1="226.80" y1="272.50" x2="305.00" y2="272.50" stroke="#1a1a1a" stroke-width="1.20" stroke-linecap="butt"/>
<line x1="236.90" y1="284.40" x2="252.80" y2="284.40" stroke="#1a1a1a" stroke-width="1.20" stroke-linecap="butt"/>
<line x1="262.90" y1="284.40" x2="278.70" y2="284.40" stroke="#1a1a1a" stroke-width="1.20" stroke-linecap="butt"/>
<line x1="288.80" y1="284.40" x2="304.70" y2="284.40" stroke="#1a1a1a" stroke-width="1.20" stroke-linecap="butt"/>
<line x1="244.40" y1="295.90" x2="252.80" y2="295.90" stroke="#1a1a1a" stroke-width="1.20" stroke-linecap="butt"/>
<line x1="270.40" y1="295.90" x2="278.70" y2="295.90" stroke="#1a1a1a" stroke-width="1.20" stroke-linecap="butt"/>
<line x1="296.30" y1="295.90" x2="304.70" y2="295.90" stroke="#1a1a1a" stroke-width="1.20" stroke-linecap="butt"/>
<rect x="393.15" y="229.99" width="10.15" height="30.51" fill="#60a63c" />
<line x1="398.22" y1="230.19" x2="398.22" y2="226.21" stroke="#111" stroke-width="0.80" stroke-linecap="butt"/>
<line x1="397.32" y1="226.21" x2="399.12" y2="226.21" stroke="#111" stroke-width="0.80" stroke-linecap="butt"/>
<rect x="404.51" y="249.97" width="10.15" height="10.53" fill="#60a63c" />
<line x1="409.58" y1="250.17" x2="409.58" y2="248.24" stroke="#111" stroke-width="0.80" stroke-linecap="butt"/>
<line x1="408.69" y1="248.24" x2="410.48" y2="248.24" stroke="#111" stroke-width="0.80" stroke-linecap="butt"/>
<rect x="415.87" y="230.80" width="10.15" height="29.70" fill="#60a63c" />
<line x1="420.94" y1="231.00" x2="420.94" y2="228.10" stroke="#111" stroke-width="0.80" stroke-linecap="butt"/>
<line x1="420.05" y1="228.10" x2="421.84" y2="228.10" stroke="#111" stroke-width="0.80" stroke-linecap="butt"/>
<rect x="427.23" y="227.99" width="10.15" height="32.51" fill="#b5d699" />
<line x1="432.30" y1="228.19" x2="432.30" y2="225.02" stroke="#111" stroke-width="0.80" stroke-linecap="butt"/>
<line x1="431.40" y1="225.02" x2="433.20" y2="225.02" stroke="#111" stroke-width="0.80" stroke-linecap="butt"/>
<rect x="438.59" y="229.45" width="10.15" height="31.05" fill="#b5d699" />
<line x1="443.66" y1="229.65" x2="443.66" y2="225.02" stroke="#111" stroke-width="0.80" stroke-linecap="butt"/>
<line x1="442.76" y1="225.02" x2="444.56" y2="225.02" stroke="#111" stroke-width="0.80" stroke-linecap="butt"/>
<rect x="449.95" y="229.99" width="10.15" height="30.51" fill="#b5d699" />
<line x1="455.02" y1="230.19" x2="455.02" y2="226.21" stroke="#111" stroke-width="0.80" stroke-linecap="butt"/>
<line x1="454.12" y1="226.21" x2="455.92" y2="226.21" stroke="#111" stroke-width="0.80" stroke-linecap="butt"/>
<rect x="461.31" y="231.23" width="10.15" height="29.27" fill="#bf4f4b" />
<line x1="466.38" y1="231.43" x2="466.38" y2="227.45" stroke="#111" stroke-width="0.80" stroke-linecap="butt"/>
<line x1="465.48" y1="227.45" x2="467.28" y2="227.45" stroke="#111" stroke-width="0.80" stroke-linecap="butt"/>
<rect x="472.67" y="237.50" width="10.15" height="23.00" fill="#bf4f4b" />
<line x1="477.74" y1="237.70" x2="477.74" y2="235.01" stroke="#111" stroke-width="0.80" stroke-linecap="butt"/>
<line x1="476.84" y1="235.01" x2="478.64" y2="235.01" stroke="#111" stroke-width="0.80" stroke-linecap="butt"/>
<rect x="484.03" y="231.99" width="10.15" height="28.51" fill="#bf4f4b" />
<line x1="489.10" y1="232.19" x2="489.10" y2="229.94" stroke="#111" stroke-width="0.80" stroke-linecap="butt"/>
<line x1="488.20" y1="229.94" x2="490.00" y2="229.94" stroke="#111" stroke-width="0.80" stroke-linecap="butt"/>
<line x1="392.40" y1="193.40" x2="392.40" y2="261.20" stroke="#000" stroke-width="1.50" stroke-linecap="butt"/>
<line x1="391.70" y1="260.50" x2="497.00" y2="260.50" stroke="#000" stroke-width="1.40" stroke-linecap="butt"/>
<line x1="389.20" y1="260.50" x2="392.40" y2="260.50" stroke="#000" stroke-width="1.15" stroke-linecap="butt"/>
<text transform="translate(386.40 262.90) scale(0.92 1)" font-size="7.40" text-anchor="end" fill="#111" >0</text>
<line x1="389.20" y1="244.30" x2="392.40" y2="244.30" stroke="#000" stroke-width="1.15" stroke-linecap="butt"/>
<text transform="translate(386.40 246.70) scale(0.92 1)" font-size="7.40" text-anchor="end" fill="#111" >3</text>
<line x1="389.20" y1="228.10" x2="392.40" y2="228.10" stroke="#000" stroke-width="1.15" stroke-linecap="butt"/>
<text transform="translate(386.40 230.50) scale(0.92 1)" font-size="7.40" text-anchor="end" fill="#111" >6</text>
<line x1="389.20" y1="211.90" x2="392.40" y2="211.90" stroke="#000" stroke-width="1.15" stroke-linecap="butt"/>
<text transform="translate(386.40 214.30) scale(0.92 1)" font-size="7.40" text-anchor="end" fill="#111" >9</text>
<line x1="389.20" y1="195.70" x2="392.40" y2="195.70" stroke="#000" stroke-width="1.15" stroke-linecap="butt"/>
<text transform="translate(386.40 198.10) scale(0.92 1)" font-size="7.40" text-anchor="end" fill="#111" >12</text>
<line x1="392.40" y1="260.50" x2="392.40" y2="263.30" stroke="#111" stroke-width="1.00" stroke-linecap="butt"/>
<line x1="403.76" y1="260.50" x2="403.76" y2="263.30" stroke="#111" stroke-width="1.00" stroke-linecap="butt"/>
<line x1="415.12" y1="260.50" x2="415.12" y2="263.30" stroke="#111" stroke-width="1.00" stroke-linecap="butt"/>
<line x1="426.48" y1="260.50" x2="426.48" y2="263.30" stroke="#111" stroke-width="1.00" stroke-linecap="butt"/>
<line x1="437.84" y1="260.50" x2="437.84" y2="263.30" stroke="#111" stroke-width="1.00" stroke-linecap="butt"/>
<line x1="449.20" y1="260.50" x2="449.20" y2="263.30" stroke="#111" stroke-width="1.00" stroke-linecap="butt"/>
<line x1="460.56" y1="260.50" x2="460.56" y2="263.30" stroke="#111" stroke-width="1.00" stroke-linecap="butt"/>
<line x1="471.92" y1="260.50" x2="471.92" y2="263.30" stroke="#111" stroke-width="1.00" stroke-linecap="butt"/>
<line x1="483.28" y1="260.50" x2="483.28" y2="263.30" stroke="#111" stroke-width="1.00" stroke-linecap="butt"/>
<line x1="494.64" y1="260.50" x2="494.64" y2="263.30" stroke="#111" stroke-width="1.00" stroke-linecap="butt"/>
<text transform="translate(364.50 226.90) rotate(-90)" font-size="9.00" text-anchor="middle" fill="#111" textLength="60.30" lengthAdjust="spacingAndGlyphs" >Rolling velocity</text>
<text transform="translate(375.40 227.40) rotate(-90)" font-size="9.00" text-anchor="middle" fill="#111" textLength="26.00" lengthAdjust="spacingAndGlyphs" >(μm/s)</text>
<line x1="398.00" y1="225.00" x2="410.00" y2="225.00" stroke="#111" stroke-width="1.00" stroke-linecap="butt"/>
<line x1="398.00" y1="224.50" x2="398.00" y2="227.50" stroke="#111" stroke-width="1.00" stroke-linecap="butt"/>
<text transform="translate(404.00 224.60)" font-size="6.00" text-anchor="middle" fill="#111" >*</text>
<line x1="465.80" y1="227.00" x2="477.50" y2="227.00" stroke="#111" stroke-width="1.00" stroke-linecap="butt"/>
<line x1="465.80" y1="226.50" x2="465.80" y2="230.00" stroke="#111" stroke-width="1.00" stroke-linecap="butt"/>
<text transform="translate(471.65 226.60)" font-size="6.00" text-anchor="middle" fill="#111" >*</text>
<rect x="396.20" y="185.50" width="8.30" height="8.30" fill="#60a63c" />
<rect x="463.00" y="185.50" width="8.30" height="8.30" fill="#bf4f4b" />
<rect x="396.20" y="200.00" width="8.30" height="8.30" fill="#b5d699" />
<text transform="translate(407.50 192.50)" font-size="7.20" text-anchor="start" fill="#111" textLength="47.00" lengthAdjust="spacingAndGlyphs" >Lcp2<tspan dy="-2.88" font-size="5.04" style="stroke-width:0.08px">f/f</tspan><tspan dy="2.88">LysMCre</tspan><tspan dy="-2.88" font-size="5.04" style="stroke-width:0.08px">-</tspan></text>
<text transform="translate(474.50 192.50)" font-size="7.20" text-anchor="start" fill="#111" textLength="21.80" lengthAdjust="spacingAndGlyphs" >Cxcr2<tspan dy="-2.88" font-size="5.04" style="stroke-width:0.08px">-/-</tspan></text>
<text transform="translate(407.50 207.00)" font-size="7.20" text-anchor="start" fill="#111" textLength="48.70" lengthAdjust="spacingAndGlyphs" >Lcp2<tspan dy="-2.88" font-size="5.04" style="stroke-width:0.08px">f/f</tspan><tspan dy="2.88">LysMCre</tspan><tspan dy="-2.88" font-size="5.04" style="stroke-width:0.08px">+</tspan></text>
<text transform="translate(388.30 275.00)" font-size="7.60" text-anchor="end" fill="#111" textLength="33.80" lengthAdjust="spacingAndGlyphs" >P-selectin:</text>
<text transform="translate(388.30 286.50)" font-size="7.60" text-anchor="end" fill="#111" textLength="26.00" lengthAdjust="spacingAndGlyphs" >ICAM-1:</text>
<text transform="translate(388.30 298.00)" font-size="7.60" text-anchor="end" fill="#111" textLength="23.60" lengthAdjust="spacingAndGlyphs" >CXCL1:</text>
<text transform="translate(386.30 307.70)" font-size="7.60" text-anchor="end" fill="#111" textLength="36.50" lengthAdjust="spacingAndGlyphs" >(0.1 μg/ml)</text>
<text transform="translate(388.30 319.60)" font-size="7.60" text-anchor="end" fill="#111" textLength="42.60" lengthAdjust="spacingAndGlyphs" >Anti-ICAM-1:</text>
<line x1="392.10" y1="272.60" x2="495.10" y2="272.60" stroke="#1a1a1a" stroke-width="1.20" stroke-linecap="butt"/>
<line x1="403.90" y1="284.30" x2="424.70" y2="284.30" stroke="#1a1a1a" stroke-width="1.20" stroke-linecap="butt"/>
<line x1="438.10" y1="284.30" x2="458.90" y2="284.30" stroke="#1a1a1a" stroke-width="1.20" stroke-linecap="butt"/>
<line x1="472.20" y1="284.30" x2="493.00" y2="284.30" stroke="#1a1a1a" stroke-width="1.20" stroke-linecap="butt"/>
<line x1="392.10" y1="296.40" x2="495.10" y2="296.40" stroke="#1a1a1a" stroke-width="1.20" stroke-linecap="butt"/>
<line x1="415.70" y1="317.40" x2="426.10" y2="317.40" stroke="#1a1a1a" stroke-width="1.20" stroke-linecap="butt"/>
<line x1="449.20" y1="317.40" x2="460.00" y2="317.40" stroke="#1a1a1a" stroke-width="1.20" stroke-linecap="butt"/>
<line x1="482.40" y1="317.40" x2="493.00" y2="317.40" stroke="#1a1a1a" stroke-width="1.20" stroke-linecap="butt"/>
<path d="M347.5 272.7 H345.0 V296.2 H347.5" fill="none" stroke="#111" stroke-width="1.25"/>
<text transform="translate(329.80 284.30) rotate(-90)" font-size="7.60" text-anchor="middle" fill="#111" textLength="41.00" lengthAdjust="spacingAndGlyphs" >Immobilized</text>
<text transform="translate(339.70 284.10) rotate(-90)" font-size="7.60" text-anchor="middle" fill="#111" textLength="24.20" lengthAdjust="spacingAndGlyphs" >protein</text>
<rect x="246.05" y="408.14" width="9.90" height="31.86" fill="#ae002b" />
<line x1="251.00" y1="408.34" x2="251.00" y2="404.58" stroke="#111" stroke-width="0.80" stroke-linecap="butt"/>
<line x1="250.10" y1="404.58" x2="251.90" y2="404.58" stroke="#111" stroke-width="0.80" stroke-linecap="butt"/>
<rect x="257.44" y="429.49" width="9.90" height="10.51" fill="#ae002b" />
<line x1="262.39" y1="429.69" x2="262.39" y2="427.68" stroke="#111" stroke-width="0.80" stroke-linecap="butt"/>
<line x1="261.49" y1="427.68" x2="263.29" y2="427.68" stroke="#111" stroke-width="0.80" stroke-linecap="butt"/>
<rect x="268.83" y="405.34" width="9.90" height="34.66" fill="#ae002b" />
<line x1="273.78" y1="405.54" x2="273.78" y2="402.33" stroke="#111" stroke-width="0.80" stroke-linecap="butt"/>
<line x1="272.88" y1="402.33" x2="274.68" y2="402.33" stroke="#111" stroke-width="0.80" stroke-linecap="butt"/>
<rect x="280.22" y="409.89" width="9.90" height="30.11" fill="#4f2267" />
<line x1="285.17" y1="410.09" x2="285.17" y2="407.37" stroke="#111" stroke-width="0.80" stroke-linecap="butt"/>
<line x1="284.27" y1="407.37" x2="286.07" y2="407.37" stroke="#111" stroke-width="0.80" stroke-linecap="butt"/>
<rect x="291.61" y="408.79" width="9.90" height="31.21" fill="#4f2267" />
<line x1="296.56" y1="408.99" x2="296.56" y2="405.78" stroke="#111" stroke-width="0.80" stroke-linecap="butt"/>
<line x1="295.66" y1="405.78" x2="297.46" y2="405.78" stroke="#111" stroke-width="0.80" stroke-linecap="butt"/>
<rect x="303.00" y="409.23" width="9.90" height="30.77" fill="#4f2267" />
<line x1="307.95" y1="409.43" x2="307.95" y2="406.22" stroke="#111" stroke-width="0.80" stroke-linecap="butt"/>
<line x1="307.05" y1="406.22" x2="308.85" y2="406.22" stroke="#111" stroke-width="0.80" stroke-linecap="butt"/>
<rect x="314.39" y="411.15" width="9.90" height="28.85" fill="#a08ab4" />
<line x1="319.34" y1="411.35" x2="319.34" y2="408.85" stroke="#111" stroke-width="0.80" stroke-linecap="butt"/>
<line x1="318.44" y1="408.85" x2="320.24" y2="408.85" stroke="#111" stroke-width="0.80" stroke-linecap="butt"/>
<rect x="325.78" y="417.83" width="9.90" height="22.17" fill="#a08ab4" />
<line x1="330.73" y1="418.03" x2="330.73" y2="416.18" stroke="#111" stroke-width="0.80" stroke-linecap="butt"/>
<line x1="329.83" y1="416.18" x2="331.63" y2="416.18" stroke="#111" stroke-width="0.80" stroke-linecap="butt"/>
<rect x="337.17" y="408.52" width="9.90" height="31.48" fill="#a08ab4" />
<line x1="342.12" y1="408.72" x2="342.12" y2="404.25" stroke="#111" stroke-width="0.80" stroke-linecap="butt"/>
<line x1="341.22" y1="404.25" x2="343.02" y2="404.25" stroke="#111" stroke-width="0.80" stroke-linecap="butt"/>
<line x1="245.30" y1="372.30" x2="245.30" y2="440.70" stroke="#000" stroke-width="1.50" stroke-linecap="butt"/>
<line x1="244.60" y1="440.00" x2="349.80" y2="440.00" stroke="#000" stroke-width="1.40" stroke-linecap="butt"/>
<line x1="242.10" y1="440.00" x2="245.30" y2="440.00" stroke="#000" stroke-width="1.15" stroke-linecap="butt"/>
<text transform="translate(238.80 442.40) scale(0.92 1)" font-size="7.40" text-anchor="end" fill="#111" >0</text>
<line x1="242.10" y1="423.57" x2="245.30" y2="423.57" stroke="#000" stroke-width="1.15" stroke-linecap="butt"/>
<text transform="translate(238.80 425.97) scale(0.92 1)" font-size="7.40" text-anchor="end" fill="#111" >3</text>
<line x1="242.10" y1="407.15" x2="245.30" y2="407.15" stroke="#000" stroke-width="1.15" stroke-linecap="butt"/>
<text transform="translate(238.80 409.55) scale(0.92 1)" font-size="7.40" text-anchor="end" fill="#111" >6</text>
<line x1="242.10" y1="390.73" x2="245.30" y2="390.73" stroke="#000" stroke-width="1.15" stroke-linecap="butt"/>
<text transform="translate(238.80 393.12) scale(0.92 1)" font-size="7.40" text-anchor="end" fill="#111" >9</text>
<line x1="242.10" y1="374.30" x2="245.30" y2="374.30" stroke="#000" stroke-width="1.15" stroke-linecap="butt"/>
<text transform="translate(238.80 376.70) scale(0.92 1)" font-size="7.40" text-anchor="end" fill="#111" >12</text>
<line x1="245.30" y1="440.00" x2="245.30" y2="442.80" stroke="#111" stroke-width="1.00" stroke-linecap="butt"/>
<line x1="256.69" y1="440.00" x2="256.69" y2="442.80" stroke="#111" stroke-width="1.00" stroke-linecap="butt"/>
<line x1="268.08" y1="440.00" x2="268.08" y2="442.80" stroke="#111" stroke-width="1.00" stroke-linecap="butt"/>
<line x1="279.47" y1="440.00" x2="279.47" y2="442.80" stroke="#111" stroke-width="1.00" stroke-linecap="butt"/>
<line x1="290.86" y1="440.00" x2="290.86" y2="442.80" stroke="#111" stroke-width="1.00" stroke-linecap="butt"/>
<line x1="302.25" y1="440.00" x2="302.25" y2="442.80" stroke="#111" stroke-width="1.00" stroke-linecap="butt"/>
<line x1="313.64" y1="440.00" x2="313.64" y2="442.80" stroke="#111" stroke-width="1.00" stroke-linecap="butt"/>
<line x1="325.03" y1="440.00" x2="325.03" y2="442.80" stroke="#111" stroke-width="1.00" stroke-linecap="butt"/>
<line x1="336.42" y1="440.00" x2="336.42" y2="442.80" stroke="#111" stroke-width="1.00" stroke-linecap="butt"/>
<line x1="347.81" y1="440.00" x2="347.81" y2="442.80" stroke="#111" stroke-width="1.00" stroke-linecap="butt"/>
<text transform="translate(213.20 406.20) rotate(-90)" font-size="9.00" text-anchor="middle" fill="#111" textLength="60.30" lengthAdjust="spacingAndGlyphs" >Rolling velocity</text>
<text transform="translate(224.00 406.70) rotate(-90)" font-size="9.00" text-anchor="middle" fill="#111" textLength="26.00" lengthAdjust="spacingAndGlyphs" >(μm/s)</text>
<line x1="251.80" y1="402.80" x2="263.80" y2="402.80" stroke="#111" stroke-width="1.00" stroke-linecap="butt"/>
<text transform="translate(257.80 402.40)" font-size="6.00" text-anchor="middle" fill="#111" >*</text>
<line x1="263.80" y1="397.00" x2="296.20" y2="397.00" stroke="#111" stroke-width="1.00" stroke-linecap="butt"/>
<text transform="translate(280.00 396.60)" font-size="6.00" text-anchor="middle" fill="#111" >*</text>
<line x1="263.80" y1="390.30" x2="330.10" y2="390.30" stroke="#111" stroke-width="1.00" stroke-linecap="butt"/>
<text transform="translate(296.95 389.90)" font-size="6.00" text-anchor="middle" fill="#111" >*</text>
<line x1="319.90" y1="407.60" x2="331.90" y2="407.60" stroke="#111" stroke-width="1.00" stroke-linecap="butt"/>
<line x1="319.90" y1="407.10" x2="319.90" y2="410.00" stroke="#111" stroke-width="1.00" stroke-linecap="butt"/>
<text transform="translate(325.90 407.20)" font-size="6.00" text-anchor="middle" fill="#111" >*</text>
<rect x="250.00" y="361.90" width="8.10" height="8.10" fill="#ae002b" />
<rect x="276.10" y="361.90" width="8.10" height="8.10" fill="#4f2267" />
<rect x="250.00" y="376.90" width="8.10" height="8.10" fill="#a08ab4" />
<text transform="translate(261.10 368.40)" font-size="7.20" text-anchor="start" fill="#111" textLength="9.70" lengthAdjust="spacingAndGlyphs" >WT</text>
<text transform="translate(286.90 368.40)" font-size="7.20" text-anchor="start" fill="#111" textLength="27.70" lengthAdjust="spacingAndGlyphs" >Lcp2<tspan dy="-2.88" font-size="5.04" style="stroke-width:0.08px">Y145F</tspan></text>
<text transform="translate(261.10 383.20)" font-size="7.20" text-anchor="start" fill="#111" textLength="40.10" lengthAdjust="spacingAndGlyphs" >Lcp2<tspan dy="-2.88" font-size="5.04" style="stroke-width:0.08px">Y112/128F</tspan></text>
<text transform="translate(239.00 453.80)" font-size="7.60" text-anchor="end" fill="#111" textLength="33.30" lengthAdjust="spacingAndGlyphs" >P-selectin:</text>
<text transform="translate(239.00 465.30)" font-size="7.60" text-anchor="end" fill="#111" textLength="26.00" lengthAdjust="spacingAndGlyphs" >ICAM-1:</text>
<text transform="translate(239.00 476.90)" font-size="7.60" text-anchor="end" fill="#111" textLength="23.00" lengthAdjust="spacingAndGlyphs" >CXCL1:</text>
<text transform="translate(237.20 486.40)" font-size="7.60" text-anchor="end" fill="#111" textLength="36.00" lengthAdjust="spacingAndGlyphs" >(0.1 μg/ml)</text>
<text transform="translate(239.00 498.20)" font-size="7.60" text-anchor="end" fill="#111" textLength="41.90" lengthAdjust="spacingAndGlyphs" >Anti-ICAM-1:</text>
<line x1="245.00" y1="451.50" x2="347.90" y2="451.50" stroke="#1a1a1a" stroke-width="1.20" stroke-linecap="butt"/>
<line x1="258.60" y1="463.40" x2="279.20" y2="463.40" stroke="#1a1a1a" stroke-width="1.20" stroke-linecap="butt"/>
<line x1="292.30" y1="463.40" x2="313.20" y2="463.40" stroke="#1a1a1a" stroke-width="1.20" stroke-linecap="butt"/>
<line x1="326.60" y1="463.40" x2="347.60" y2="463.40" stroke="#1a1a1a" stroke-width="1.20" stroke-linecap="butt"/>
<line x1="245.00" y1="480.00" x2="347.90" y2="480.00" stroke="#1a1a1a" stroke-width="1.20" stroke-linecap="butt"/>
<line x1="268.90" y1="496.50" x2="279.00" y2="496.50" stroke="#1a1a1a" stroke-width="1.20" stroke-linecap="butt"/>
<line x1="303.40" y1="496.50" x2="313.20" y2="496.50" stroke="#1a1a1a" stroke-width="1.20" stroke-linecap="butt"/>
<line x1="337.10" y1="496.50" x2="347.60" y2="496.50" stroke="#1a1a1a" stroke-width="1.20" stroke-linecap="butt"/>
<rect x="100.60" y="378.90" width="10.20" height="60.90" fill="#6aae40" />
<rect x="100.60" y="390.00" width="10.20" height="49.80" fill="#2d508b" />
<rect x="100.60" y="403.20" width="10.20" height="36.60" fill="#ae002b" />
<rect x="113.10" y="378.90" width="10.20" height="60.90" fill="#6aae40" />
<rect x="113.10" y="380.60" width="10.20" height="59.20" fill="#2d508b" />
<rect x="113.10" y="385.40" width="10.20" height="54.40" fill="#ae002b" />
<rect x="125.60" y="378.90" width="10.30" height="60.90" fill="#6aae40" />
<rect x="125.60" y="379.90" width="10.30" height="59.90" fill="#2d508b" />
<rect x="125.60" y="382.40" width="10.30" height="57.40" fill="#ae002b" />
<line x1="105.60" y1="386.60" x2="105.60" y2="390.00" stroke="#111" stroke-width="0.80" stroke-linecap="butt"/>
<line x1="104.60" y1="386.60" x2="106.60" y2="386.60" stroke="#111" stroke-width="0.80" stroke-linecap="butt"/>
<line x1="105.60" y1="399.60" x2="105.60" y2="403.20" stroke="#111" stroke-width="0.80" stroke-linecap="butt"/>
<line x1="104.60" y1="399.60" x2="106.60" y2="399.60" stroke="#111" stroke-width="0.80" stroke-linecap="butt"/>
<line x1="118.30" y1="378.20" x2="118.30" y2="380.60" stroke="#111" stroke-width="0.80" stroke-linecap="butt"/>
<line x1="117.30" y1="378.20" x2="119.30" y2="378.20" stroke="#111" stroke-width="0.80" stroke-linecap="butt"/>
<line x1="118.30" y1="382.40" x2="118.30" y2="385.40" stroke="#111" stroke-width="0.80" stroke-linecap="butt"/>
<line x1="117.30" y1="382.40" x2="119.30" y2="382.40" stroke="#111" stroke-width="0.80" stroke-linecap="butt"/>
<line x1="130.80" y1="377.90" x2="130.80" y2="382.40" stroke="#111" stroke-width="0.80" stroke-linecap="butt"/>
<line x1="129.80" y1="377.90" x2="131.80" y2="377.90" stroke="#111" stroke-width="0.80" stroke-linecap="butt"/>
<line x1="99.50" y1="377.20" x2="99.50" y2="440.50" stroke="#000" stroke-width="1.50" stroke-linecap="butt"/>
<line x1="98.80" y1="439.80" x2="140.20" y2="439.80" stroke="#000" stroke-width="1.40" stroke-linecap="butt"/>
<line x1="96.30" y1="439.80" x2="99.50" y2="439.80" stroke="#000" stroke-width="1.15" stroke-linecap="butt"/>
<text transform="translate(93.80 442.40) scale(0.93 1)" font-size="7.80" text-anchor="end" fill="#111" >0</text>
<line x1="96.30" y1="427.62" x2="99.50" y2="427.62" stroke="#000" stroke-width="1.15" stroke-linecap="butt"/>
<text transform="translate(93.80 430.22) scale(0.93 1)" font-size="7.80" text-anchor="end" fill="#111" >20</text>
<line x1="96.30" y1="415.44" x2="99.50" y2="415.44" stroke="#000" stroke-width="1.15" stroke-linecap="butt"/>
<text transform="translate(93.80 418.04) scale(0.93 1)" font-size="7.80" text-anchor="end" fill="#111" >40</text>
<line x1="96.30" y1="403.26" x2="99.50" y2="403.26" stroke="#000" stroke-width="1.15" stroke-linecap="butt"/>
<text transform="translate(93.80 405.86) scale(0.93 1)" font-size="7.80" text-anchor="end" fill="#111" >60</text>
<line x1="96.30" y1="391.08" x2="99.50" y2="391.08" stroke="#000" stroke-width="1.15" stroke-linecap="butt"/>
<text transform="translate(93.80 393.68) scale(0.93 1)" font-size="7.80" text-anchor="end" fill="#111" >80</text>
<line x1="96.30" y1="378.90" x2="99.50" y2="378.90" stroke="#000" stroke-width="1.15" stroke-linecap="butt"/>
<text transform="translate(93.80 381.50) scale(0.93 1)" font-size="7.80" text-anchor="end" fill="#111" >100</text>
<line x1="99.60" y1="439.80" x2="99.60" y2="442.60" stroke="#111" stroke-width="1.00" stroke-linecap="butt"/>
<line x1="111.90" y1="439.80" x2="111.90" y2="442.60" stroke="#111" stroke-width="1.00" stroke-linecap="butt"/>
<line x1="124.50" y1="439.80" x2="124.50" y2="442.60" stroke="#111" stroke-width="1.00" stroke-linecap="butt"/>
<line x1="137.10" y1="439.80" x2="137.10" y2="442.60" stroke="#111" stroke-width="1.00" stroke-linecap="butt"/>
<text transform="translate(74.10 407.50) rotate(-90)" font-size="9.00" text-anchor="middle" fill="#111" textLength="62.30" lengthAdjust="spacingAndGlyphs" >Neutrophils (%)</text>
<text transform="translate(119.60 355.50)" font-size="7.30" text-anchor="middle" fill="#111" textLength="63.20" lengthAdjust="spacingAndGlyphs" >P-selectin/ICAM-1/</text>
<text transform="translate(119.50 365.60)" font-size="7.30" text-anchor="middle" fill="#111" textLength="60.00" lengthAdjust="spacingAndGlyphs" >CXCL1 (0.1 μg/ml)</text>
<text transform="translate(118.50 376.30)" font-size="5.80" text-anchor="middle" fill="#111" style="stroke:none" font-style="italic">#</text>
<text transform="translate(131.00 376.30)" font-size="5.80" text-anchor="middle" fill="#111" style="stroke:none" font-style="italic">#</text>
<text transform="translate(153.00 384.80)" font-size="7.30" text-anchor="start" fill="#111" textLength="18.20" lengthAdjust="spacingAndGlyphs" >Arrest</text>
<rect x="140.90" y="389.40" width="42.40" height="25.20" fill="#fff" stroke="#1c1c1c" stroke-width="1.05" />
<rect x="144.20" y="391.50" width="8.60" height="8.50" fill="#6aae40" />
<rect x="144.20" y="403.40" width="8.60" height="8.40" fill="#2d508b" />
<rect x="144.20" y="418.60" width="8.60" height="8.50" fill="#ae002b" />
<text transform="translate(156.20 398.00)" font-size="7.30" text-anchor="start" fill="#111" textLength="21.30" lengthAdjust="spacingAndGlyphs" >Spread</text>
<text transform="translate(156.20 409.70)" font-size="7.30" text-anchor="start" fill="#111" textLength="19.80" lengthAdjust="spacingAndGlyphs" >Round</text>
<text transform="translate(156.20 424.70)" font-size="7.30" text-anchor="start" fill="#111" textLength="21.20" lengthAdjust="spacingAndGlyphs" >Rolling</text>
<text transform="translate(108.90 450.00) rotate(-45)" font-size="7.60" text-anchor="end" fill="#111" textLength="25.50" lengthAdjust="spacingAndGlyphs" >Control</text>
<text transform="translate(121.00 450.40) rotate(-45)" font-size="7.60" text-anchor="end" fill="#111" textLength="53.50" lengthAdjust="spacingAndGlyphs" >Lcp2<tspan dy="-3.04" font-size="5.32" style="stroke-width:0.08px">f/f</tspan><tspan dy="3.04">LysMCre</tspan><tspan dy="-3.04" font-size="5.32" style="stroke-width:0.08px">+</tspan></text>
<text transform="translate(132.90 450.30) rotate(-45)" font-size="7.60" text-anchor="end" fill="#111" textLength="23.00" lengthAdjust="spacingAndGlyphs" >Cxcr2<tspan dy="-3.04" font-size="5.32" style="stroke-width:0.08px">-/-</tspan></text>
<rect x="400.70" y="378.60" width="10.30" height="61.20" fill="#6aae40" />
<rect x="400.70" y="388.70" width="10.30" height="51.10" fill="#2d508b" />
<rect x="400.70" y="404.70" width="10.30" height="35.10" fill="#ae002b" />
<rect x="413.40" y="378.60" width="10.20" height="61.20" fill="#6aae40" />
<rect x="413.40" y="381.50" width="10.20" height="58.30" fill="#2d508b" />
<rect x="413.40" y="387.40" width="10.20" height="52.40" fill="#ae002b" />
<rect x="426.00" y="378.60" width="10.30" height="61.20" fill="#6aae40" />
<rect x="426.00" y="379.70" width="10.30" height="60.10" fill="#2d508b" />
<rect x="426.00" y="397.30" width="10.30" height="42.50" fill="#ae002b" />
<line x1="405.80" y1="386.40" x2="405.80" y2="388.70" stroke="#111" stroke-width="0.80" stroke-linecap="butt"/>
<line x1="404.80" y1="386.40" x2="406.80" y2="386.40" stroke="#111" stroke-width="0.80" stroke-linecap="butt"/>
<line x1="405.80" y1="401.60" x2="405.80" y2="404.70" stroke="#111" stroke-width="0.80" stroke-linecap="butt"/>
<line x1="404.80" y1="401.60" x2="406.80" y2="401.60" stroke="#111" stroke-width="0.80" stroke-linecap="butt"/>
<line x1="418.50" y1="378.60" x2="418.50" y2="381.50" stroke="#111" stroke-width="0.80" stroke-linecap="butt"/>
<line x1="417.50" y1="378.60" x2="419.50" y2="378.60" stroke="#111" stroke-width="0.80" stroke-linecap="butt"/>
<line x1="418.50" y1="383.50" x2="418.50" y2="387.40" stroke="#111" stroke-width="0.80" stroke-linecap="butt"/>
<line x1="417.50" y1="383.50" x2="419.50" y2="383.50" stroke="#111" stroke-width="0.80" stroke-linecap="butt"/>
<line x1="431.10" y1="377.60" x2="431.10" y2="379.70" stroke="#111" stroke-width="0.80" stroke-linecap="butt"/>
<line x1="430.10" y1="377.60" x2="432.10" y2="377.60" stroke="#111" stroke-width="0.80" stroke-linecap="butt"/>
<line x1="431.10" y1="394.50" x2="431.10" y2="397.30" stroke="#111" stroke-width="0.80" stroke-linecap="butt"/>
<line x1="430.10" y1="394.50" x2="432.10" y2="394.50" stroke="#111" stroke-width="0.80" stroke-linecap="butt"/>
<line x1="399.60" y1="377.00" x2="399.60" y2="440.50" stroke="#000" stroke-width="1.50" stroke-linecap="butt"/>
<line x1="398.90" y1="439.80" x2="440.20" y2="439.80" stroke="#000" stroke-width="1.40" stroke-linecap="butt"/>
<line x1="396.40" y1="439.80" x2="399.60" y2="439.80" stroke="#000" stroke-width="1.15" stroke-linecap="butt"/>
<text transform="translate(394.40 442.40) scale(0.93 1)" font-size="7.80" text-anchor="end" fill="#111" >0</text>
<line x1="396.40" y1="427.56" x2="399.60" y2="427.56" stroke="#000" stroke-width="1.15" stroke-linecap="butt"/>
<text transform="translate(394.40 430.16) scale(0.93 1)" font-size="7.80" text-anchor="end" fill="#111" >20</text>
<line x1="396.40" y1="415.32" x2="399.60" y2="415.32" stroke="#000" stroke-width="1.15" stroke-linecap="butt"/>
<text transform="translate(394.40 417.92) scale(0.93 1)" font-size="7.80" text-anchor="end" fill="#111" >40</text>
<line x1="396.40" y1="403.08" x2="399.60" y2="403.08" stroke="#000" stroke-width="1.15" stroke-linecap="butt"/>
<text transform="translate(394.40 405.68) scale(0.93 1)" font-size="7.80" text-anchor="end" fill="#111" >60</text>
<line x1="396.40" y1="390.84" x2="399.60" y2="390.84" stroke="#000" stroke-width="1.15" stroke-linecap="butt"/>
<text transform="translate(394.40 393.44) scale(0.93 1)" font-size="7.80" text-anchor="end" fill="#111" >80</text>
<line x1="396.40" y1="378.60" x2="399.60" y2="378.60" stroke="#000" stroke-width="1.15" stroke-linecap="butt"/>
<text transform="translate(394.40 381.20) scale(0.93 1)" font-size="7.80" text-anchor="end" fill="#111" >100</text>
<line x1="399.60" y1="439.80" x2="399.60" y2="442.60" stroke="#111" stroke-width="1.00" stroke-linecap="butt"/>
<line x1="411.90" y1="439.80" x2="411.90" y2="442.60" stroke="#111" stroke-width="1.00" stroke-linecap="butt"/>
<line x1="424.60" y1="439.80" x2="424.60" y2="442.60" stroke="#111" stroke-width="1.00" stroke-linecap="butt"/>
<line x1="437.30" y1="439.80" x2="437.30" y2="442.60" stroke="#111" stroke-width="1.00" stroke-linecap="butt"/>
<text transform="translate(374.10 406.80) rotate(-90)" font-size="9.00" text-anchor="middle" fill="#111" textLength="62.30" lengthAdjust="spacingAndGlyphs" >Neutrophils (%)</text>
<text transform="translate(420.00 356.50)" font-size="7.30" text-anchor="middle" fill="#111" textLength="62.50" lengthAdjust="spacingAndGlyphs" >P-selectin/ICAM-1/</text>
<text transform="translate(419.60 366.40)" font-size="7.30" text-anchor="middle" fill="#111" textLength="59.30" lengthAdjust="spacingAndGlyphs" >CXCL1 (0.1 μg/ml)</text>
<text transform="translate(418.30 377.30)" font-size="5.80" text-anchor="middle" fill="#111" style="stroke:none" font-style="italic">#</text>
<text transform="translate(430.70 393.20)" font-size="6.40" text-anchor="middle" fill="#e6ecf5" style="stroke:none" font-style="italic">#</text>
<text transform="translate(409.50 450.30) rotate(-45)" font-size="7.60" text-anchor="end" fill="#111" textLength="10.80" lengthAdjust="spacingAndGlyphs" >WT</text>
<text transform="translate(422.00 450.80) rotate(-45)" font-size="7.60" text-anchor="end" fill="#111" textLength="32.00" lengthAdjust="spacingAndGlyphs" >Lcp2<tspan dy="-3.04" font-size="5.32" style="stroke-width:0.08px">Y145F</tspan></text>
<text transform="translate(437.10 451.80) rotate(-45)" font-size="7.60" text-anchor="end" fill="#111" textLength="43.50" lengthAdjust="spacingAndGlyphs" >Lcp2<tspan dy="-3.04" font-size="5.32" style="stroke-width:0.08px">Y112/128F</tspan></text>
</g>
</svg>
</body></html>
